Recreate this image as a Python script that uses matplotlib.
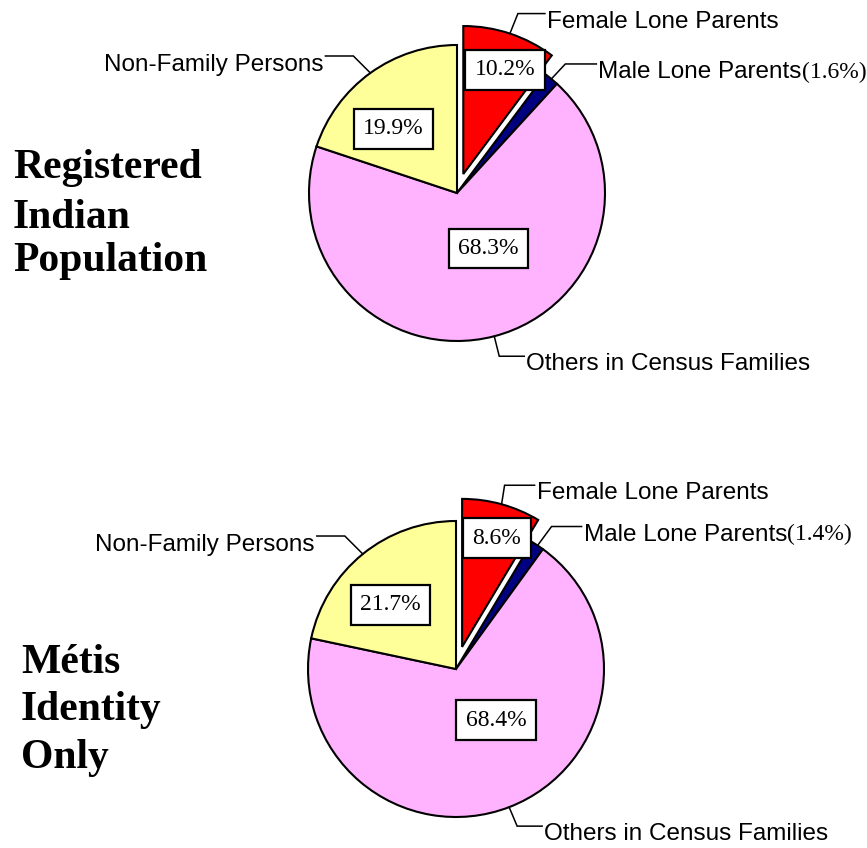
import numpy as np
import matplotlib.pyplot as plt

# data (percent of population)
categories = ['Female Lone Parents', 'Male Lone Parents',
              'Others in Census Families', 'Non-Family Persons']
registered_indian = [10.2, 1.6, 68.3, 19.9]
metis_only = [8.6, 1.4, 68.4, 21.7]
group_titles = [['Registered', 'Indian', 'Population'],
                ['Métis', 'Identity', 'Only']]
colors = ['#FF0000', '#000080', '#FFB3FF', '#FFFF99']

SANS = 'Liberation Sans'
SERIF = 'Liberation Serif'

# layout for each pie (pixels, y downwards)
layouts = [
    dict(center=(457, 193), explode=0.135, title_x=13, title_y=[178, 228, 271],
         # (radial fraction, visual angle shift) for the boxed percentages
         pct=[(0.76, -3.4), None, (0.43, 14.8), (0.61, 8.8)],
         # knee offset from slice edge, horizontal leader length
         knee=[(8, -20, 27), (14, -15, 31), (5, 20, 25), (-17, -17, -28)]),
    dict(center=(456, 669), explode=0.155, title_x=21, title_y=[673, 720, 768],
         pct=[(0.77, -2.3), None, (0.44, 17.0), (0.62, 6.4)],
         knee=[(3, -19, 30), (14, -19, 30), (8, 19, 25), (-18, -18, -28)]),
]
R = 148

fig = plt.figure(figsize=(8.67, 8.48), dpi=100)
ax = fig.add_axes([0, 0, 1, 1])

for values, titles, lay in zip([registered_indian, metis_only], group_titles, layouts):
    # pie() shifts exploded slices in data units, so scale by the radius
    wedges, _ = ax.pie(values, colors=colors, explode=[lay['explode'] * R, 0, 0, 0],
                       startangle=-90, counterclock=True, center=lay['center'],
                       radius=R, frame=True,
                       wedgeprops=dict(edgecolor='black', linewidth=1.5))

    for i, w in enumerate(wedges):
        tm = np.deg2rad((w.theta1 + w.theta2) / 2)
        cx, cy = w.center

        # boxed percentage inside the slice
        if lay['pct'][i] is not None:
            frac, dth = lay['pct'][i]
            t = tm - np.deg2rad(dth)
            ax.text(cx + frac * R * np.cos(t), cy + frac * R * np.sin(t),
                    f'{values[i]:.1f}%', ha='center', va='center',
                    fontfamily=SERIF, fontsize=17, zorder=5,
                    bbox=dict(boxstyle='square,pad=0.4',
                              fc='white', ec='black', lw=1.6))

        # leader line and category label
        ax0, ay0 = cx + R * np.cos(tm), cy + R * np.sin(tm)
        kdx, kdy, hl = lay['knee'][i]
        kx, ky = ax0 + kdx, ay0 + kdy
        ex = kx + hl
        ax.plot([ax0, kx, ex], [ay0, ky, ky], color='black', lw=1.1,
                solid_joinstyle='miter', zorder=4)
        if hl > 0:
            lbl = ax.text(ex + 2, ky + 14, categories[i], ha='left', va='baseline',
                          fontfamily=SANS, fontsize=17.5)
        else:
            lbl = ax.text(ex - 2, ky + 15, categories[i], ha='right', va='baseline',
                          fontfamily=SANS, fontsize=17.5)
        if i == 1:
            ax.annotate(f'({values[i]:.1f}%)', xy=(1, 0), xycoords=lbl,
                        ha='left', va='bottom', fontfamily=SERIF, fontsize=17)

    for line, y in zip(titles, lay['title_y']):
        ax.text(lay['title_x'], y, line, ha='left', va='baseline',
                fontfamily=SERIF, fontweight='bold', fontsize=30)

ax.set_xlim(0, 867)
ax.set_ylim(848, 0)
ax.set_aspect('equal')
ax.axis('off')

plt.savefig('out.png', dpi=100)
